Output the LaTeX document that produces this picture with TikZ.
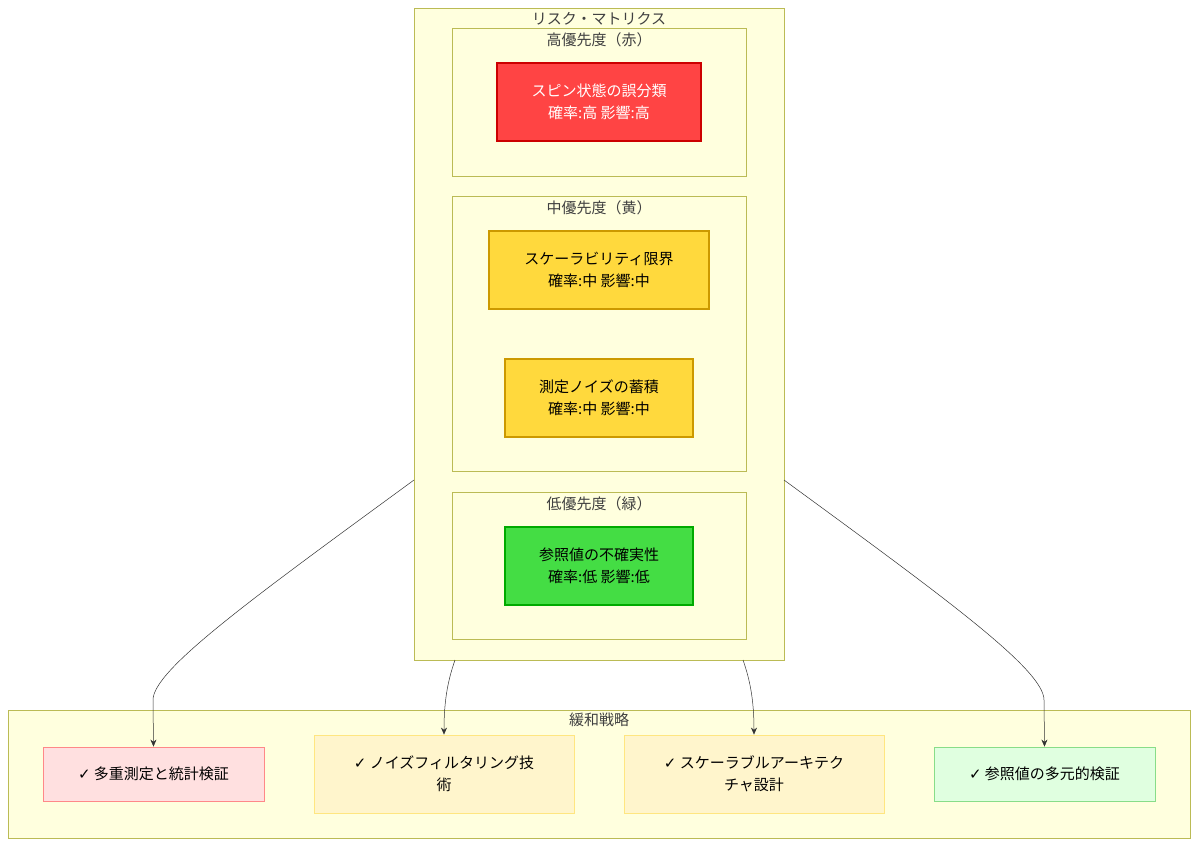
\documentclass[tikz,border=0pt]{standalone}
\usepackage{fontspec}
\setmainfont{Noto Sans CJK JP}
\newfontfamily\symfont{DejaVu Sans}
\usetikzlibrary{arrows.meta}
\definecolor{clfill}{HTML}{FFFFDE}
\definecolor{clline}{HTML}{BBBB55}
\definecolor{redfill}{HTML}{FF4444}
\definecolor{redline}{HTML}{CC0000}
\definecolor{yelfill}{HTML}{FFD93D}
\definecolor{yelline}{HTML}{CC9900}
\definecolor{grnfill}{HTML}{44DD44}
\definecolor{grnline}{HTML}{00AA00}
\definecolor{m1fill}{HTML}{FFE0E0}
\definecolor{m1line}{HTML}{FF8888}
\definecolor{m2fill}{HTML}{FFF5CC}
\definecolor{m2line}{HTML}{FFE680}
\definecolor{m4fill}{HTML}{E0FFE0}
\definecolor{m4line}{HTML}{88DD88}
\newcommand{\chk}{{\symfont ✓}}
\begin{document}
\begin{tikzpicture}[
   x=1pt,y=-1pt,
   font=\fontsize{15}{22}\selectfont,
   cluster/.style={draw=clline,fill=clfill,line width=0.8pt},
   clabel/.style={anchor=center,text=black!75},
   risk/.style={draw,line width=1.2pt,align=center,minimum height=78pt,inner sep=0pt},
   mit/.style={draw,line width=0.8pt,align=center,inner sep=0pt},
   to/.style={-{Stealth[length=7pt,width=6pt]},line width=0.5pt,draw=black!80}]
\useasboundingbox (0,0) rectangle (1198,846);
% clusters
\draw[cluster] (414,8) rectangle (784,660);
\node[clabel] (matrixlbl) at (599,19) {リスク・マトリクス};
\draw[cluster] (452,28) rectangle (746,176);
\node[clabel] (highlbl) at (599,40) {高優先度（赤）};
\draw[cluster] (452,196) rectangle (746,471);
\node[clabel] (midlbl) at (599,208) {中優先度（黄）};
\draw[cluster] (452,492) rectangle (746,639);
\node[clabel] (lowlbl) at (599,504) {低優先度（緑）};
\draw[cluster] (8,710) rectangle (1190,838);
\node[clabel] (mitlbl) at (599,720) {緩和戦略};
% risks
\node[risk,draw=redline,fill=redfill,text=white,minimum width=204pt] (spin) at (599,102) {スピン状態の誤分類\\確率:高 影響:高};
\node[risk,draw=yelline,fill=yelfill,minimum width=220pt] (scale) at (599,270) {スケーラビリティ限界\\確率:中 影響:中};
\node[risk,draw=yelline,fill=yelfill,minimum width=188pt] (noise) at (599,398) {測定ノイズの蓄積\\確率:中 影響:中};
\node[risk,draw=grnline,fill=grnfill,minimum width=188pt] (ref) at (599,566) {参照値の不確実性\\確率:低 影響:低};
% mitigations
\node[mit,draw=m1line,fill=m1fill,minimum width=221pt,minimum height=54pt] (multi) at (153.5,774) {\chk{} 多重測定と統計検証};
\node[mit,draw=m2line,fill=m2fill,minimum width=260pt,minimum height=78pt] (filter) at (444,774) {\chk{} ノイズフィルタリング技\\術};
\node[mit,draw=m2line,fill=m2fill,minimum width=260pt,minimum height=78pt] (arch) at (754,774) {\chk{} スケーラブルアーキテク\\チャ設計};
\node[mit,draw=m4line,fill=m4fill,minimum width=221pt,minimum height=54pt] (multiref) at (1044.5,774) {\chk{} 参照値の多元的検証};
% connectors
\coordinate (c1) at (414,480);
\coordinate (c2) at (455,660);
\coordinate (c3) at (743,660);
\coordinate (c4) at (784,480);
\draw[to] (c1) .. controls (250,600) and (153,670) .. (153,700) -- (multi.north);
\draw[to] (c2) .. controls (448,680) and (444,700) .. (filter.north);
\draw[to] (c3) .. controls (750,680) and (754,700) .. (arch.north);
\draw[to] (c4) .. controls (948,600) and (1044,670) .. (1044,700) -- (multiref.north);
\end{tikzpicture}
\end{document}
